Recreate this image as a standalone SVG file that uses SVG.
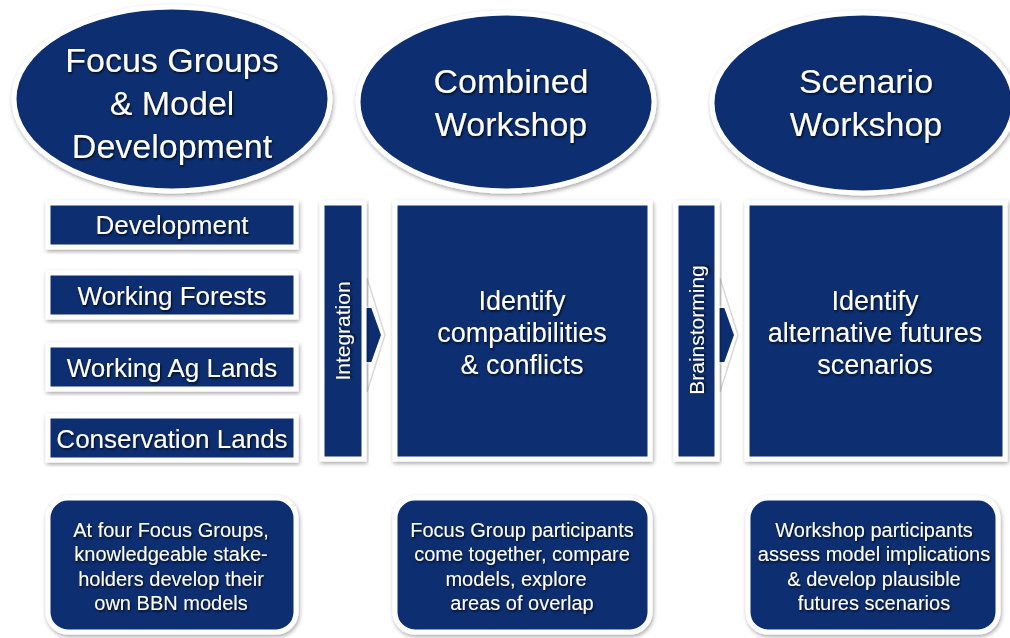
<svg xmlns="http://www.w3.org/2000/svg" width="1010" height="638" viewBox="0 0 1010 638">
<defs>
<filter id="sh" x="-10%" y="-10%" width="120%" height="125%">
<feDropShadow dx="1" dy="2" stdDeviation="2" flood-color="#000" flood-opacity="0.35"/>
</filter>
<filter id="ts" x="-10%" y="-20%" width="120%" height="150%">
<feDropShadow dx="1" dy="1.5" stdDeviation="0.8" flood-color="#000" flood-opacity="0.8"/>
</filter>
<style>
.n{fill:#0c2d70;stroke:#fff;stroke-width:5;filter:url(#sh)}
.t{font-family:"Liberation Sans",Arial,sans-serif;fill:#fff;text-anchor:middle;filter:url(#ts)}
.e{font-size:34px}
.l{font-size:26px}
.b{font-size:27px}
.v{font-size:21px}
.s{font-size:20px}
</style>
</defs>
<rect width="1010" height="638" fill="#fff"/>

<g id="ellipse1">
<ellipse class="n" cx="172" cy="99" rx="158" ry="92"/>
<text class="t e" x="172" y="72">Focus Groups</text>
<text class="t e" x="172" y="115">&amp; Model</text>
<text class="t e" x="172" y="158">Development</text>
</g>
<g id="ellipse2">
<ellipse class="n" cx="506" cy="102" rx="148" ry="89"/>
<text class="t e" x="511" y="93">Combined</text>
<text class="t e" x="511" y="136">Workshop</text>
</g>
<g id="ellipse3">
<ellipse class="n" cx="863" cy="103" rx="151" ry="90"/>
<text class="t e" x="866" y="93">Scenario</text>
<text class="t e" x="866" y="136">Workshop</text>
</g>

<g id="box-development">
<rect class="n" x="48" y="203" width="248" height="44"/>
<text class="t l" x="172" y="234">Development</text>
</g>
<g id="box-forests">
<rect class="n" x="48" y="273" width="248" height="44"/>
<text class="t l" x="172" y="305">Working Forests</text>
</g>
<g id="box-ag">
<rect class="n" x="48" y="345" width="248" height="44"/>
<text class="t l" x="172" y="377">Working Ag Lands</text>
</g>
<g id="box-conservation">
<rect class="n" x="48" y="416" width="248" height="44"/>
<text class="t l" x="172" y="448">Conservation Lands</text>
</g>

<g id="connectors">
<polygon points="362,305 367,305 367,278 385,335 367,392 367,365 362,365" fill="#fff" stroke="#d8d8d8" stroke-width="1.5"/>
<polygon points="362,307 372,307 382,335 372,363 362,363" fill="#0c2d70" stroke="#fff" stroke-width="2"/>
<polygon points="715,305 720,305 720,278 738,335 720,392 720,365 715,365" fill="#fff" stroke="#d8d8d8" stroke-width="1.5"/>
<polygon points="715,307 725,307 735,335 725,363 715,363" fill="#0c2d70" stroke="#fff" stroke-width="2"/>
</g>

<g id="bar-integration">
<rect class="n" x="322" y="203" width="42" height="256"/>
<text class="t v" transform="translate(350,331) rotate(-90)">Integration</text>
</g>
<g id="box-combined">
<rect class="n" x="395" y="203" width="255" height="256"/>
<text class="t b" x="522" y="310">Identify</text>
<text class="t b" x="522" y="342">compatibilities</text>
<text class="t b" x="522" y="374">&amp; conflicts</text>
</g>
<g id="bar-brainstorming">
<rect class="n" x="676" y="203" width="41" height="256"/>
<text class="t v" transform="translate(704,330) rotate(-90)">Brainstorming</text>
</g>
<g id="box-scenario">
<rect class="n" x="747" y="203" width="258" height="256"/>
<text class="t b" x="875" y="310">Identify</text>
<text class="t b" x="875" y="342">alternative futures</text>
<text class="t b" x="875" y="374">scenarios</text>
</g>

<g id="note1">
<rect class="n" x="48" y="498" width="248" height="134" rx="20"/>
<text class="t s" x="171" y="537">At four Focus Groups,</text>
<text class="t s" x="171" y="561">knowledgeable stake-</text>
<text class="t s" x="171" y="586">holders develop their</text>
<text class="t s" x="171" y="610">own BBN models</text>
</g>
<g id="note2">
<rect class="n" x="395" y="498" width="255" height="134" rx="20"/>
<text class="t s" x="522" y="537">Focus Group participants</text>
<text class="t s" x="522" y="561">come together, compare</text>
<text class="t s" x="516" y="586">models, explore</text>
<text class="t s" x="522" y="610">areas of overlap</text>
</g>
<g id="note3">
<rect class="n" x="748" y="498" width="250" height="134" rx="20"/>
<text class="t s" x="874" y="537">Workshop participants</text>
<text class="t s" x="874" y="561">assess model implications</text>
<text class="t s" x="874" y="586">&amp; develop plausible</text>
<text class="t s" x="874" y="610">futures scenarios</text>
</g>
</svg>
